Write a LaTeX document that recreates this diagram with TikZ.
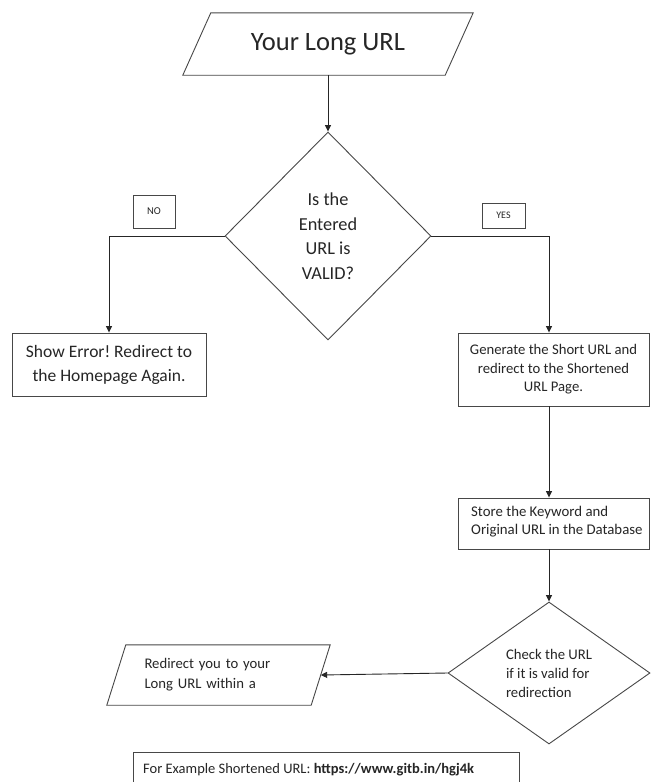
\documentclass[tikz,border=0pt]{standalone}
\usepackage{fontspec}
\setmainfont{Carlito}
\usetikzlibrary{shapes.geometric,arrows.meta}
\frenchspacing
\begin{document}
\begin{tikzpicture}[x=1pt,y=-1pt,
  shapeline/.style={draw=black!72, line width=0.9pt},
  boxnode/.style={shapeline, rectangle, inner sep=0pt, align=center, text=black!85},
  dia/.style={shapeline, diamond, inner sep=0pt, align=center, text=black!85},
  body/.style={rectangle, inner sep=0pt, align=center, text=black!85},
  conn/.style={draw=black!85, line width=0.9pt, -{Triangle[length=6.5pt,width=6pt]}},
  txt/.style={inner sep=0pt, align=left, text=black!85},
  small/.style={font=\fontsize{14.7}{18.5}\selectfont}
]
\clip (0,0) rectangle (651,782);
\fill[white] (0,0) rectangle (651,782);

% start
\node[body, minimum width=262, minimum height=62, font=\fontsize{26.5}{30}\selectfont] (top) at (328,44) {Your Long URL};
\draw[shapeline] ([xshift=-14pt]top.south west) -- ([xshift=-14pt]top.south east) -- ([xshift=14pt]top.north east) -- ([xshift=14pt]top.north west) -- cycle;

% decision 1
\node[dia, minimum width=206, minimum height=208, font=\fontsize{18.3}{24.5}\selectfont] (q1) at (328,236) {Is the\\Entered\\URL is\\VALID?};

\node[boxnode, minimum width=42, minimum height=33, font=\fontsize{10.5}{12}\selectfont] (no) at (154,211.5) {NO};
\node[boxnode, minimum width=43, minimum height=25, font=\fontsize{10}{12}\selectfont] (yes) at (503.5,215.5) {YES};

\node[boxnode, minimum width=194, minimum height=63, font=\fontsize{17.5}{24}\selectfont] (err) at (109,364.5) {Show Error! Redirect to\\the Homepage Again.};

\node[boxnode, small, minimum width=191, minimum height=73] (gen) at (553.5,369.5) {Generate the Short URL and\\redirect to the Shortened\\URL Page.};

\node[boxnode, minimum width=191, minimum height=51] (store) at (553.5,523.5) {};
\node[txt, anchor=west, font=\fontsize{14.8}{18}\selectfont] (storet) at (471,522) {Store the Keyword and\\Original URL in the Database};

\node[dia, minimum width=202, minimum height=142, align=left, font=\fontsize{14.7}{19}\selectfont] (chk) at (549,673) {Check the URL\\if it is valid for\\redirection};

\node[body, minimum width=204, minimum height=60, text width=148pt, align=left, font=\fontsize{14.7}{20}\selectfont] (redir) at (218.5,675) {Redirect you to your\\Long URL within a};
\draw[shapeline] ([xshift=-9.5pt]redir.south west) -- ([xshift=-9.5pt]redir.south east) -- ([xshift=9.5pt]redir.north east) -- ([xshift=9.5pt]redir.north west) -- cycle;

\node[boxnode, minimum width=386, minimum height=40] (ex) at (326,772) {};
\node[txt, anchor=west, font=\fontsize{14.5}{18}\selectfont] (ext) at (143,770) {For Example Shortened URL: \textbf{https://www.gitb.in/hgj4k}};

% connectors
\draw[conn] (top.south) -- (q1.north);
\draw[conn] (q1.west) -| (err.north);
\draw[conn] (q1.east) -| (gen.north -| chk.north);
\draw[conn] (gen.south -| chk.north) -- (store.north -| chk.north);
\draw[conn] (store.south -| chk.north) -- (chk.north);
\draw[conn] (chk.west) -- (redir.east);
\end{tikzpicture}
\end{document}
